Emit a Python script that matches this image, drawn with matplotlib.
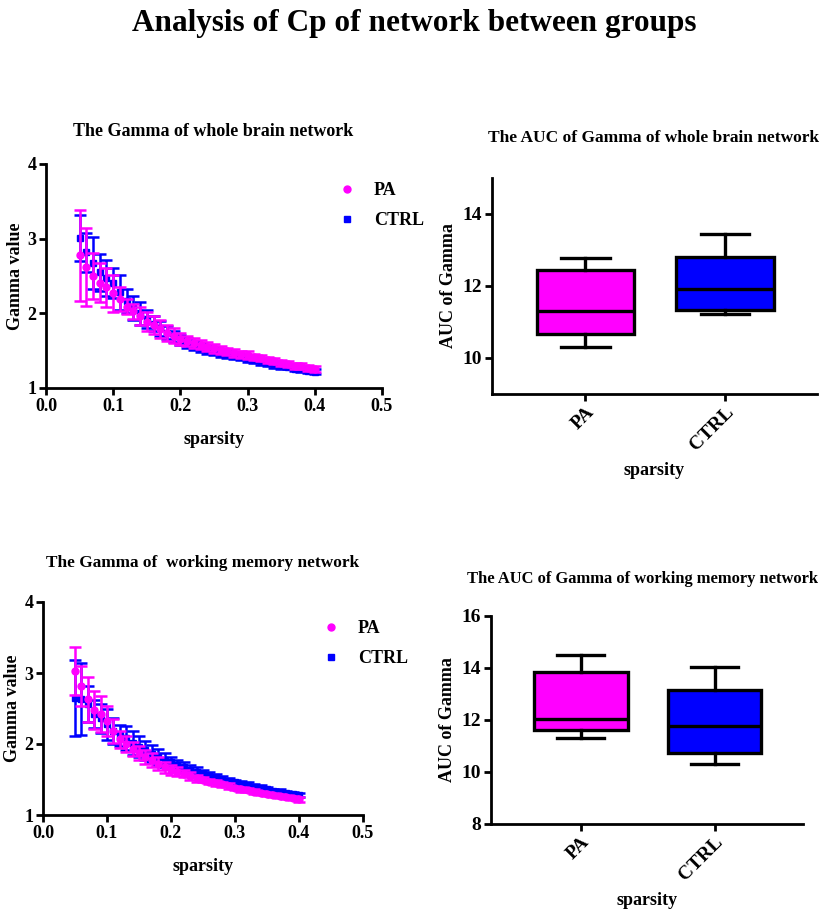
import matplotlib
matplotlib.use('Agg')
import matplotlib.pyplot as plt
import numpy as np

plt.rcParams['font.family'] = ['Liberation Serif', 'DejaVu Serif']
plt.rcParams['font.weight'] = 'bold'
plt.rcParams['axes.labelweight'] = 'bold'

# ---- data ----
sparsity = np.round(np.arange(0.05, 0.401, 0.01), 2)

# whole brain network
wb_pa_mean = [2.78, 2.62, 2.50, 2.41, 2.35, 2.27, 2.19, 2.09, 2.03, 1.96, 1.89, 1.84,
              1.79, 1.74, 1.70, 1.66, 1.63, 1.60, 1.58, 1.55, 1.53, 1.51, 1.49, 1.47,
              1.45, 1.44, 1.42, 1.40, 1.38, 1.36, 1.34, 1.32, 1.30, 1.29, 1.27, 1.25]
wb_pa_err = [0.61, 0.52, 0.31, 0.26, 0.26, 0.25, 0.16, 0.10, 0.10, 0.12, 0.13, 0.12,
             0.12, 0.11, 0.10, 0.08, 0.07, 0.07, 0.06, 0.06, 0.06, 0.05, 0.05, 0.05,
             0.05, 0.05, 0.04, 0.04, 0.04, 0.04, 0.04, 0.04, 0.04, 0.04, 0.04, 0.04]
wb_ctrl_mean = [3.01, 2.82, 2.67, 2.55, 2.47, 2.41, 2.28, 2.17, 2.07, 2.00, 1.92, 1.86,
                1.80, 1.74, 1.69, 1.64, 1.60, 1.57, 1.54, 1.51, 1.49, 1.47, 1.45, 1.43,
                1.41, 1.39, 1.37, 1.35, 1.33, 1.31, 1.29, 1.28, 1.26, 1.25, 1.23, 1.22]
wb_ctrl_err = [0.31, 0.26, 0.35, 0.25, 0.24, 0.20, 0.24, 0.16, 0.16, 0.15, 0.12, 0.10,
               0.10, 0.09, 0.08, 0.07, 0.07, 0.06, 0.06, 0.05, 0.05, 0.05, 0.05, 0.04,
               0.04, 0.04, 0.04, 0.04, 0.04, 0.04, 0.03, 0.03, 0.03, 0.03, 0.03, 0.03]

# working memory network
wm_pa_mean = [3.03, 2.82, 2.63, 2.48, 2.42, 2.32, 2.18, 2.07, 2.00, 1.93, 1.87, 1.82,
              1.77, 1.72, 1.67, 1.64, 1.61, 1.58, 1.55, 1.52, 1.50, 1.47, 1.45, 1.43,
              1.41, 1.38, 1.36, 1.35, 1.33, 1.31, 1.30, 1.28, 1.27, 1.25, 1.24, 1.22]
wm_pa_err = [0.34, 0.28, 0.32, 0.27, 0.25, 0.21, 0.17, 0.12, 0.11, 0.10, 0.10, 0.10,
             0.10, 0.09, 0.08, 0.07, 0.06, 0.05, 0.05, 0.05, 0.04, 0.04, 0.04, 0.04,
             0.04, 0.03, 0.03, 0.03, 0.03, 0.03, 0.03, 0.03, 0.03, 0.03, 0.03, 0.03]
wm_ctrl_mean = [2.65, 2.63, 2.56, 2.42, 2.36, 2.28, 2.18, 2.12, 2.08, 2.02, 1.96, 1.91,
                1.86, 1.82, 1.78, 1.74, 1.71, 1.67, 1.64, 1.61, 1.58, 1.55, 1.53, 1.50,
                1.48, 1.46, 1.44, 1.42, 1.40, 1.38, 1.36, 1.34, 1.33, 1.31, 1.30, 1.28]
wm_ctrl_err = [0.54, 0.51, 0.25, 0.20, 0.20, 0.22, 0.18, 0.15, 0.17, 0.17, 0.15, 0.13,
               0.12, 0.11, 0.10, 0.08, 0.07, 0.07, 0.06, 0.06, 0.05, 0.05, 0.05, 0.05,
               0.04, 0.04, 0.04, 0.04, 0.04, 0.04, 0.04, 0.03, 0.03, 0.03, 0.03, 0.03]

groups = ['PA', 'CTRL']
# box stats: whislo, q1, med, q3, whishi
wb_auc = {'PA': [10.31, 10.68, 11.30, 12.45, 12.78],
          'CTRL': [11.22, 11.34, 11.92, 12.81, 13.44]}
wm_auc = {'PA': [11.31, 11.62, 12.03, 13.86, 14.50],
          'CTRL': [10.31, 10.74, 11.77, 13.15, 14.04]}

PA_COL = '#ff00ff'
CTRL_COL = '#0000ff'

W, H = 829, 909
fig = plt.figure(figsize=(W / 100, H / 100), dpi=100)


def rect(l, t, r, b):
    # pixel box -> figure fraction
    return [l / W, 1 - b / H, (r - l) / W, (b - t) / H]


def style_axes(ax, size):
    for s in ['top', 'right']:
        ax.spines[s].set_visible(False)
    for s in ['left', 'bottom']:
        ax.spines[s].set_linewidth(2.0)
    ax.tick_params(width=2.0, length=5, labelsize=size, pad=2)
    for lab in ax.get_xticklabels() + ax.get_yticklabels():
        lab.set_fontweight('bold')


def curve_panel(box, pa_m, pa_e, ct_m, ct_e, title_xy, title, tsize):
    ax = fig.add_axes(rect(*box))
    ax.errorbar(sparsity, ct_m, yerr=ct_e, fmt='none', ecolor=CTRL_COL,
                elinewidth=1.8, capsize=4.5, capthick=1.8)
    ax.plot(sparsity, ct_m, 's', color=CTRL_COL, ms=4.5, label='CTRL')
    ax.errorbar(sparsity, pa_m, yerr=pa_e, fmt='none', ecolor=PA_COL,
                elinewidth=1.8, capsize=4.5, capthick=1.8)
    ax.plot(sparsity, pa_m, 'o', color=PA_COL, ms=5, label='PA')
    ax.set_xlim(0, 0.5)
    ax.set_ylim(1, 4)
    ax.set_xticks([0.0, 0.1, 0.2, 0.3, 0.4, 0.5])
    ax.set_yticks([1, 2, 3, 4])
    ax.set_xlabel('sparsity', fontsize=13, fontweight='bold', labelpad=12)
    ax.set_ylabel('Gamma value', fontsize=13, fontweight='bold', labelpad=2)
    style_axes(ax, 13)
    h, l = ax.get_legend_handles_labels()
    ax.legend([h[1], h[0]], [l[1], l[0]], loc='upper left',
              bbox_to_anchor=(0.82, 0.99), frameon=False,
              handletextpad=1.0, labelspacing=0.7, handlelength=1.0,
              prop={'weight': 'bold', 'size': 13})
    fig.text(title_xy[0] / W, 1 - title_xy[1] / H, title, ha='center',
             va='center', fontsize=tsize, fontweight='bold')
    return ax


def box_panel(box, auc, ylim, yticks, title_xy, title, tsize):
    ax = fig.add_axes(rect(*box))
    stats = []
    for g in groups:
        lo, q1, med, q3, hi = auc[g]
        stats.append({'whislo': lo, 'q1': q1, 'med': med, 'q3': q3,
                      'whishi': hi, 'fliers': [], 'label': g})
    bp = ax.bxp(stats, positions=[0, 1], widths=0.7, showfliers=False,
                patch_artist=True, capwidths=0.35,
                boxprops=dict(linewidth=2.4, edgecolor='black'),
                medianprops=dict(color='black', linewidth=2.4),
                whiskerprops=dict(color='black', linewidth=2.4),
                capprops=dict(color='black', linewidth=2.4))
    for patch, c in zip(bp['boxes'], [PA_COL, CTRL_COL]):
        patch.set_facecolor(c)
    ax.set_xlim(-0.67, 1.66)
    ax.set_ylim(*ylim)
    ax.set_yticks(yticks)
    ax.set_xticks([0, 1])
    ax.set_xticklabels(groups, rotation=45, ha='right', rotation_mode='anchor',
                       fontsize=14, fontweight='bold')
    ax.set_xlabel('sparsity', fontsize=13, fontweight='bold', labelpad=6)
    ax.set_ylabel('AUC of Gamma', fontsize=13, fontweight='bold', labelpad=4)
    style_axes(ax, 14)
    fig.text(title_xy[0] / W, 1 - title_xy[1] / H, title, ha='center',
             va='center', fontsize=tsize, fontweight='bold')
    return ax


fig.text(0.5, 1 - 24 / H, 'Analysis of Cp of network between groups',
         ha='center', va='center', fontsize=22.5, fontweight='bold')

curve_panel((46, 164, 382, 388), wb_pa_mean, wb_pa_err, wb_ctrl_mean, wb_ctrl_err,
            (213, 131), 'The Gamma of whole brain network', 13)
curve_panel((43, 602, 363, 815), wm_pa_mean, wm_pa_err, wm_ctrl_mean, wm_ctrl_err,
            (203, 563), 'The Gamma of  working memory network', 12.4)

box_panel((492, 178, 817, 394), wb_auc, (9, 15), [10, 12, 14],
          (654, 138), 'The AUC of Gamma of whole brain network', 12.5)
box_panel((491, 616, 803, 824), wm_auc, (8, 16), [8, 10, 12, 14, 16],
          (643, 579), 'The AUC of Gamma of working memory network', 11.9)

fig.savefig('out.png', dpi=100)
